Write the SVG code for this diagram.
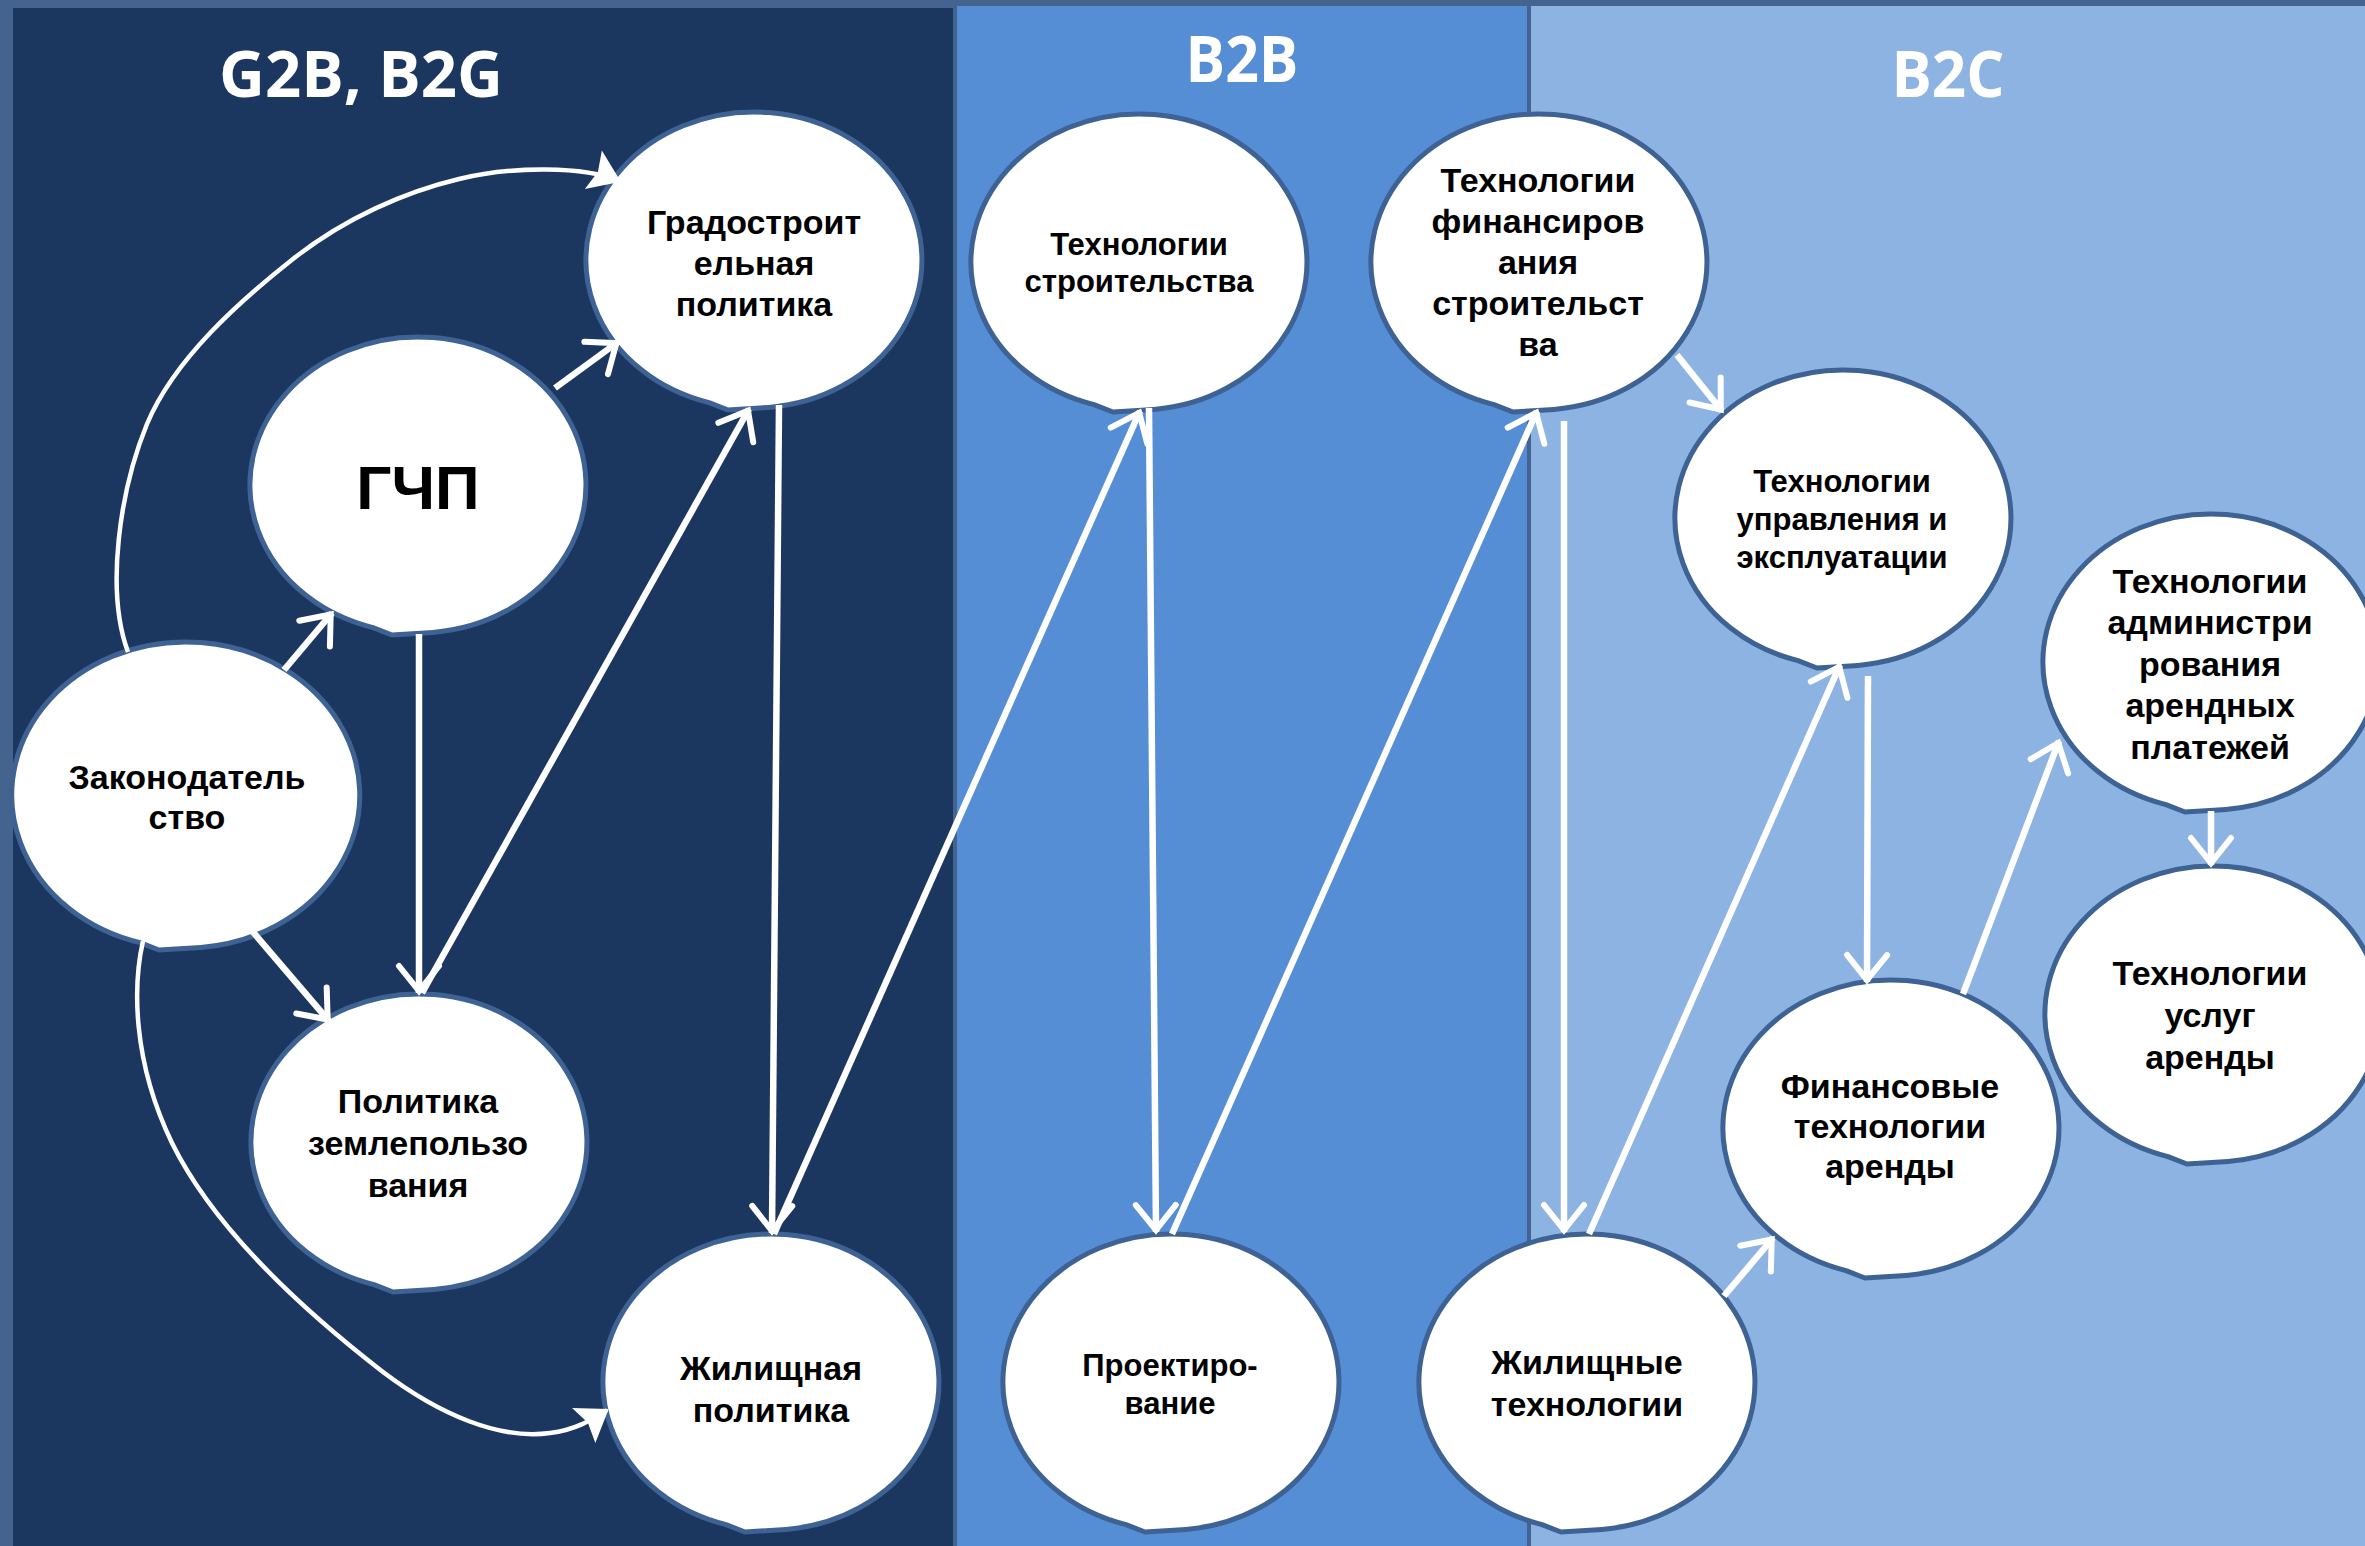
<svg xmlns="http://www.w3.org/2000/svg" width="2365" height="1546" viewBox="0 0 2365 1546">
<style>
.bub{fill:#fff;stroke:#3d6293;stroke-width:5}
.t{font-family:"Liberation Sans",Arial,sans-serif;font-weight:bold;fill:#000;text-anchor:middle}
.f34{font-size:34px}
.f31{font-size:31px}
.title{font-family:"Open Sans","Liberation Sans",sans-serif;font-weight:bold;fill:#fff;font-size:64px;text-anchor:middle}
.ln{stroke:#fff;stroke-width:6.5;fill:none;marker-end:url(#chev)}
.cv{stroke:#fff;stroke-width:4.5;fill:none;marker-end:url(#tri)}
</style>
<defs>
<path id="b" d="M-45,142.6 L-26,150 L15,147.4 A168,148 0 1 0 -45,142.6 Z"/>
<path id="bL" d="M-46,147.6 L-27,155 L15,152.4 A174,153 0 1 0 -46,147.6 Z"/>
<marker id="chev" markerUnits="userSpaceOnUse" orient="auto" overflow="visible" markerWidth="40" markerHeight="50" refX="0" refY="0">
<path d="M-27,-20 L-2,0 L-27,20" fill="none" stroke="#fff" stroke-width="6" stroke-linecap="round" stroke-linejoin="miter"/>
</marker>
<marker id="tri" markerUnits="userSpaceOnUse" orient="auto" overflow="visible" markerWidth="40" markerHeight="50" refX="0" refY="0">
<path d="M2,0 L-28,-21 L-23,0 L-28,21 Z" fill="#fff"/>
</marker>
</defs>
<g id="background">
<rect x="0" y="0" width="2365" height="1546" fill="#44648f"/>
<rect x="13" y="8" width="940" height="1538" fill="#1b375f"/>
<rect x="957" y="6" width="570" height="1540" fill="#558ed5"/>
<rect x="1531" y="6" width="834" height="1540" fill="#8db3e2"/>
</g>
<g id="titles">
<text class="title" x="361" y="97" textLength="284" lengthAdjust="spacingAndGlyphs">G2B, B2G</text>
<text class="title" x="1242" y="82" textLength="113" lengthAdjust="spacingAndGlyphs">B2B</text>
<text class="title" x="1948" y="97" textLength="113" lengthAdjust="spacingAndGlyphs">B2C</text>
</g>
<g id="n-grad"><use href="#b" x="754" y="260" class="bub"/>
<text class="t f34" x="754" y="234">Градостроит</text><text class="t f34" x="754" y="275">ельная</text><text class="t f34" x="754" y="316">политика</text></g>
<g id="n-gchp"><use href="#b" x="418" y="485" class="bub"/>
<text class="t" style="font-size:62px" x="418" y="509">ГЧП</text></g>
<g id="n-zakon"><use href="#bL" x="186" y="795" class="bub"/>
<text class="t f34" x="187" y="789">Законодатель</text><text class="t f34" x="187" y="829">ство</text></g>
<g id="n-zemle"><use href="#b" x="419" y="1142" class="bub"/>
<text class="t f34" x="418" y="1113">Политика</text><text class="t f34" x="418" y="1155">землепользо</text><text class="t f34" x="418" y="1197">вания</text></g>
<g id="n-zhilpol"><use href="#b" x="771" y="1382" class="bub"/>
<text class="t f34" x="771" y="1380">Жилищная</text><text class="t f34" x="771" y="1422">политика</text></g>
<g id="n-tstroi"><use href="#b" x="1139" y="262" class="bub"/>
<text class="t f31" x="1139" y="255">Технологии</text><text class="t f31" x="1139" y="292">строительства</text></g>
<g id="n-tfin"><use href="#b" x="1539" y="262" class="bub"/>
<text class="t f34" x="1538" y="192">Технологии</text><text class="t f34" x="1538" y="233">финансиров</text><text class="t f34" x="1538" y="274">ания</text><text class="t f34" x="1538" y="315">строительст</text><text class="t f34" x="1538" y="356">ва</text></g>
<g id="n-proekt"><use href="#b" x="1171" y="1382" class="bub"/>
<text class="t f31" x="1170" y="1376">Проектиро-</text><text class="t f31" x="1170" y="1414">вание</text></g>
<g id="n-zhiltech"><use href="#b" x="1587" y="1382" class="bub"/>
<text class="t f34" x="1587" y="1374">Жилищные</text><text class="t f34" x="1587" y="1416">технологии</text></g>
<g id="n-upr"><use href="#b" x="1843" y="518" class="bub"/>
<text class="t f31" x="1842" y="492">Технологии</text><text class="t f31" x="1842" y="530">управления и</text><text class="t f31" x="1842" y="568">эксплуатации</text></g>
<g id="n-finar"><use href="#b" x="1891" y="1128" class="bub"/>
<text class="t f34" x="1890" y="1098">Финансовые</text><text class="t f34" x="1890" y="1138">технологии</text><text class="t f34" x="1890" y="1178">аренды</text></g>
<g id="n-admin"><use href="#b" x="2211" y="662" class="bub"/>
<text class="t f34" x="2210" y="593">Технологии</text><text class="t f34" x="2210" y="634">администри</text><text class="t f34" x="2210" y="676">рования</text><text class="t f34" x="2210" y="717">арендных</text><text class="t f34" x="2210" y="759">платежей</text></g>
<g id="n-uslug"><use href="#b" x="2213" y="1014" class="bub"/>
<text class="t f34" x="2210" y="985">Технологии</text><text class="t f34" x="2210" y="1027">услуг</text><text class="t f34" x="2210" y="1069">аренды</text></g>
<g id="connectors">
<path class="cv" d="M128,652 C105,590 120,490 147,424 C174.5,358.5 241,300 293,259 C345,218 405.5,191.7 459,179 C512,166 585,166 619,181"/>
<path class="cv" d="M143,941 C133,985 132,1060 172,1143 C210,1220 290,1300 383,1372 C440,1415 500,1440 550,1433 C575,1430 592,1420 607,1410"/>
<path class="ln" d="M555,388 L618,342"/>
<path class="ln" d="M284,670 L332,613"/>
<path class="ln" d="M419,634 L419,993"/>
<path class="ln" d="M422,993 L749,409"/>
<path class="ln" d="M779,405 L772,1233"/>
<path class="ln" d="M253,932 L329,1021"/>
<path class="ln" d="M774,1234 L1140,411"/>
<path class="ln" d="M1149,408 L1156,1232"/>
<path class="ln" d="M1172,1234 L1537,411"/>
<path class="ln" d="M1564,421 L1564,1232"/>
<path class="ln" d="M1589,1234 L1840,665"/>
<path class="ln" d="M1677,355 L1722,411"/>
<path class="ln" d="M1868,676 L1867,982"/>
<path class="ln" d="M1724,1296 L1773,1238"/>
<path class="ln" d="M1963,994 L2059,741"/>
<path class="ln" d="M2211,811 L2211,865"/>
</g>
</svg>
